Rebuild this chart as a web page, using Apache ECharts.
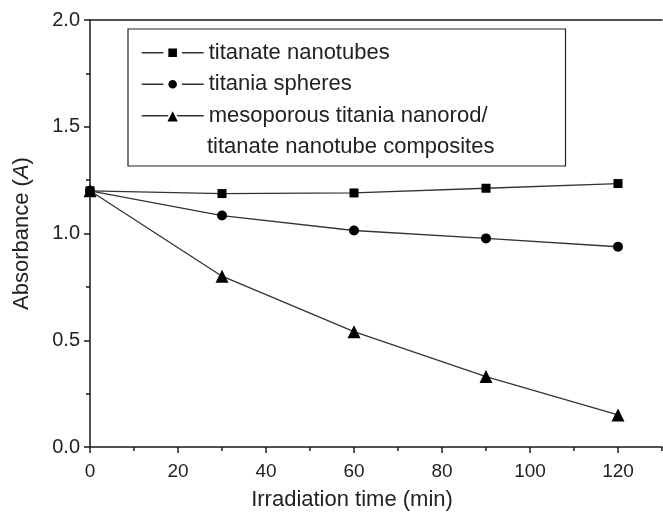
<!DOCTYPE html>
<html><head><meta charset="utf-8">
<script src="https://cdn.jsdelivr.net/npm/echarts@6/dist/echarts.min.js"></script>
<style>html,body{margin:0;padding:0;background:#fff}#c{width:663px;height:516px}</style>
</head><body><div id="c"></div>
<script>
const times = [0, 30, 60, 90, 120];
const nanotubes = [1.20, 1.187, 1.19, 1.212, 1.234];
const spheres = [1.20, 1.084, 1.014, 0.977, 0.938];
const composites = [1.20, 0.80, 0.54, 0.33, 0.15];
const seriesNames = ['titanate nanotubes', 'titania spheres', 'mesoporous titania nanorod/'];
const compositesSecondLine = 'titanate nanotube composites';
const xTitle = 'Irradiation time (min)';
const yTitle = 'Absorbance ({i|A})';

const FONT = '"Liberation Sans", Arial, sans-serif';
const AX = '#1a1a1a';
const LINE = '#333';
const TXT = '#222';
const LH = 31.5;
const pairs = vals => times.map((t, i) => [t, vals[i]]);

const chart = echarts.init(document.getElementById('c'), null, {renderer: 'canvas'});
const axisLineOn = {show: true, onZero: false, lineStyle: {color: AX, width: 1.5}};
chart.setOption({
  animation: false,
  backgroundColor: '#fff',
  grid: {left: 90, top: 20, right: 1, bottom: 66, containLabel: false},
  title: {
    text: compositesSecondLine, left: 207, top: 131.5, padding: 0, z: 10,
    textStyle: {fontFamily: FONT, fontSize: 22, fontWeight: 'normal', color: TXT, lineHeight: LH}
  },
  xAxis: [
    {
      type: 'value', min: 0, max: 130, interval: 20, position: 'bottom',
      name: xTitle, nameLocation: 'middle', nameGap: 42,
      nameTextStyle: {fontFamily: FONT, fontSize: 22, color: TXT, padding: [0, 48, 0, 0]},
      axisLine: axisLineOn, splitLine: {show: false},
      axisTick: {show: true, inside: false, length: 6, lineStyle: {color: AX, width: 1.5}},
      minorTick: {show: false},
      axisLabel: {fontFamily: FONT, fontSize: 19, color: TXT, margin: 15, showMaxLabel: false}
    },
    {
      type: 'value', min: 0, max: 130, position: 'top',
      axisLine: axisLineOn, splitLine: {show: false},
      axisTick: {show: false}, axisLabel: {show: false}
    },
    {
      type: 'value', min: 0, max: 130, interval: 10, position: 'bottom',
      axisLine: {show: false}, splitLine: {show: false},
      axisTick: {show: true, inside: false, length: 4, lineStyle: {color: AX, width: 1.5}},
      axisLabel: {show: false}
    }
  ],
  yAxis: {
    type: 'value', min: 0, max: 2, interval: 0.5,
    name: yTitle, nameLocation: 'middle', nameGap: 57,
    nameTextStyle: {fontFamily: FONT, fontSize: 22, color: TXT,
      rich: {i: {fontFamily: FONT, fontSize: 22, color: TXT, fontStyle: 'italic'}}},
    axisLine: axisLineOn, splitLine: {show: false},
    axisTick: {show: true, inside: false, length: 6, lineStyle: {color: AX, width: 1.5}},
    minorTick: {show: true, splitNumber: 2, length: 4, lineStyle: {color: AX, width: 1.5}},
    axisLabel: {fontFamily: FONT, fontSize: 20, color: TXT, margin: 10, formatter: v => v.toFixed(1)}
  },
  legend: {
    orient: 'vertical', left: 128, top: 29,
    itemWidth: 62, itemHeight: 17, itemGap: 0,
    padding: [8, 78, 3 + LH, 13],
    borderColor: '#222', borderWidth: 1.2,
    selectedMode: false,
    textStyle: {fontFamily: FONT, fontSize: 22, color: TXT, lineHeight: LH},
    itemStyle: {borderColor: '#fff', borderWidth: 5},
    lineStyle: {color: LINE, width: 1.3},
    data: [
      {name: seriesNames[0]},
      {name: seriesNames[1]},
      {name: seriesNames[2], itemStyle: {borderWidth: 2}}
    ]
  },
  series: [
    {type: 'line', name: seriesNames[2], data: pairs(composites), symbol: 'triangle', symbolSize: 13,
     itemStyle: {color: '#000'}, lineStyle: {color: LINE, width: 1.3}, z: 2},
    {type: 'line', name: seriesNames[1], data: pairs(spheres), symbol: 'circle', symbolSize: 10,
     itemStyle: {color: '#000'}, lineStyle: {color: LINE, width: 1.3}, z: 3},
    {type: 'line', name: seriesNames[0], data: pairs(nanotubes), symbol: 'rect', symbolSize: 9,
     itemStyle: {color: '#000'}, lineStyle: {color: LINE, width: 1.3}, z: 4}
  ]
});
</script></body></html>
